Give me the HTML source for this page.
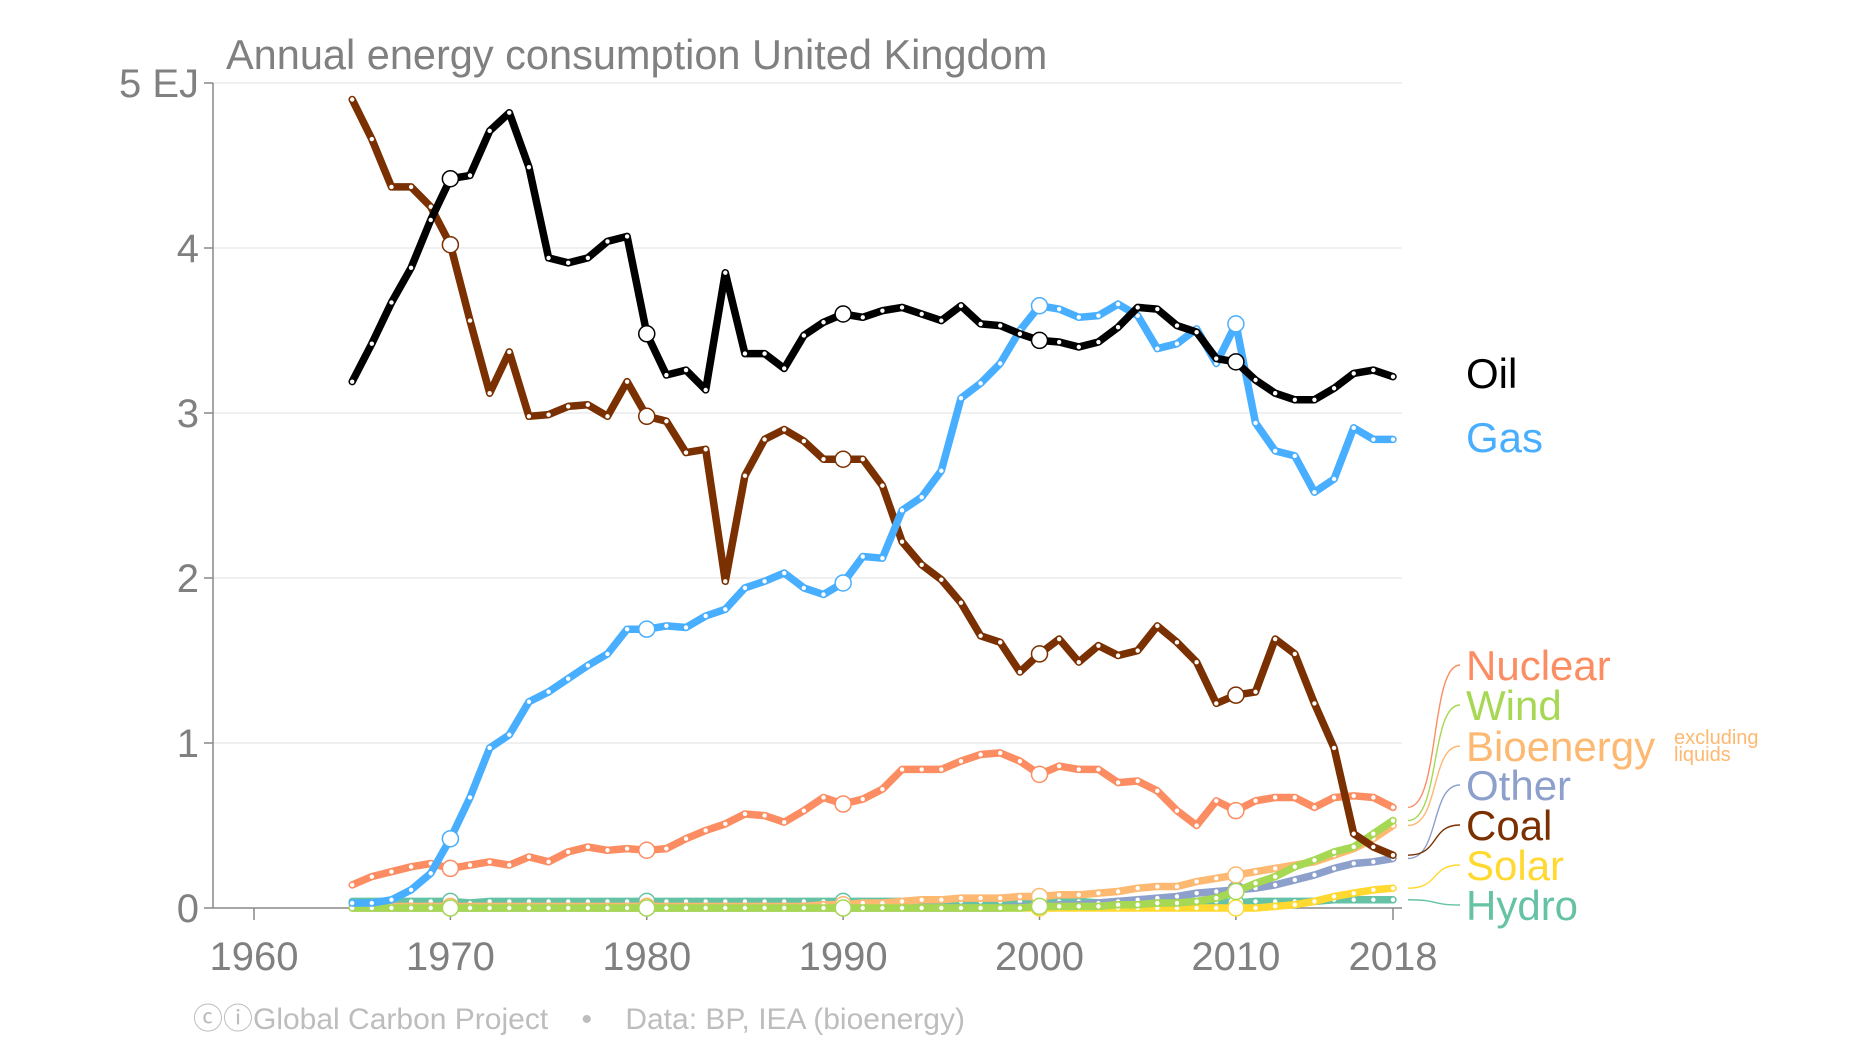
<!DOCTYPE html>
<html><head><meta charset="utf-8"><style>
html,body{margin:0;padding:0;background:#fff;}
svg{display:block;font-family:"Liberation Sans",sans-serif;}
</style></head><body>
<svg id="chart" width="1852" height="1042" viewBox="0 0 1852 1042" xmlns="http://www.w3.org/2000/svg">
<text x="226" y="69" font-size="41.5" fill="#808080">Annual energy consumption United Kingdom</text>
<g id="grid"></g><g id="axes"></g><g id="series"></g><g id="legend"></g>
<text x="193" y="1029" font-size="30" fill="#bdbdbd" xml:space="preserve">ⓒⓘGlobal Carbon Project    •    Data: BP, IEA (bioenergy)</text>
</svg>
<script>
const years = [];
for (let y = 1965; y <= 2018; y++) years.push(y);
const xTicks = [1960,1970,1980,1990,2000,2010,2018];
const yTicks = [0,1,2,3,4,5];
const yTickLabels = ["0","1","2","3","4","5 EJ"];
const oil = [3.19,3.42,3.67,3.88,4.17,4.42,4.44,4.71,4.82,4.49,3.94,3.91,3.94,4.04,4.07,3.48,3.23,3.26,3.14,3.85,3.36,3.36,3.27,3.47,3.55,3.60,3.58,3.62,3.64,3.60,3.56,3.65,3.54,3.53,3.48,3.44,3.43,3.40,3.43,3.52,3.64,3.63,3.53,3.49,3.33,3.31,3.20,3.12,3.08,3.08,3.15,3.24,3.26,3.22];
const coal = [4.90,4.66,4.37,4.37,4.25,4.02,3.56,3.12,3.37,2.98,2.99,3.04,3.05,2.98,3.19,2.98,2.95,2.76,2.78,1.98,2.62,2.84,2.90,2.83,2.72,2.72,2.72,2.56,2.22,2.08,1.99,1.85,1.65,1.61,1.43,1.54,1.63,1.49,1.59,1.53,1.56,1.71,1.61,1.49,1.24,1.29,1.31,1.63,1.54,1.24,0.97,0.45,0.37,0.32];
const gas = [0.03,0.03,0.05,0.11,0.21,0.42,0.67,0.97,1.05,1.25,1.31,1.39,1.47,1.54,1.69,1.69,1.71,1.70,1.77,1.81,1.94,1.98,2.03,1.94,1.90,1.97,2.13,2.12,2.41,2.49,2.65,3.09,3.18,3.30,3.50,3.65,3.63,3.58,3.59,3.66,3.59,3.39,3.42,3.51,3.30,3.54,2.94,2.77,2.74,2.52,2.60,2.91,2.84,2.84];
const nuclear = [0.14,0.19,0.22,0.25,0.27,0.24,0.26,0.28,0.26,0.31,0.28,0.34,0.37,0.35,0.36,0.35,0.36,0.42,0.47,0.51,0.57,0.56,0.52,0.59,0.67,0.63,0.66,0.72,0.84,0.84,0.84,0.89,0.93,0.94,0.89,0.81,0.86,0.84,0.84,0.76,0.77,0.71,0.59,0.50,0.65,0.59,0.65,0.67,0.67,0.61,0.67,0.68,0.67,0.61];
const hydro = [0.04,0.04,0.04,0.04,0.04,0.04,0.03,0.04,0.04,0.04,0.04,0.04,0.04,0.04,0.04,0.04,0.04,0.04,0.04,0.04,0.04,0.04,0.04,0.04,0.04,0.04,0.04,0.04,0.04,0.04,0.04,0.04,0.04,0.04,0.04,0.04,0.04,0.04,0.03,0.04,0.04,0.04,0.04,0.04,0.04,0.03,0.04,0.04,0.04,0.04,0.05,0.05,0.05,0.05];
const bioenergy = [0.01,0.01,0.01,0.01,0.01,0.01,0.01,0.01,0.01,0.01,0.01,0.01,0.01,0.01,0.01,0.01,0.01,0.01,0.01,0.01,0.01,0.01,0.01,0.01,0.02,0.02,0.03,0.03,0.04,0.05,0.05,0.06,0.06,0.06,0.07,0.07,0.08,0.08,0.09,0.10,0.12,0.13,0.13,0.16,0.18,0.20,0.22,0.24,0.26,0.28,0.32,0.36,0.42,0.50];
const other = [0,0,0,0,0,0,0,0,0,0,0,0,0,0,0,0,0,0,0,0,0,0,0,0,0,0,0,0,0,0,0,0,0,0,0.01,0.01,0.02,0.02,0.03,0.04,0.05,0.06,0.07,0.09,0.10,0.11,0.12,0.14,0.17,0.20,0.24,0.27,0.28,0.30];
const wind = [0,0,0,0,0,0,0,0,0,0,0,0,0,0,0,0,0,0,0,0,0,0,0,0,0,0,0,0,0,0,0,0,0,0,0,0.01,0.01,0.01,0.01,0.02,0.02,0.03,0.03,0.04,0.06,0.10,0.15,0.19,0.25,0.29,0.34,0.37,0.45,0.53];
const solar = [0,0,0,0,0,0,0,0,0,0,0,0,0,0,0,0,0,0,0,0,0,0,0,0,0,0,0,0,0,0,0,0,0,0,0,0,0,0,0,0,0,0,0,0,0,0,0,0.01,0.02,0.04,0.07,0.09,0.11,0.12];
const seriesNames = ["hydro","solar","other","bioenergy","wind","nuclear","coal","gas","oil"];
const seriesValues = [hydro,solar,other,bioenergy,wind,nuclear,coal,gas,oil];
const seriesColors = ["#66c2a5","#ffd92f","#8da0cb","#fdb871","#a6d854","#fc8d62","#7a3000","#48aeff","#000000"];
const legendLabels = ["Hydro","Solar","Other","Bioenergy","Wind","Nuclear","Coal","Gas","Oil"];
const legendY = [905,865,785,746,705,665,825,437,373];

const NS="http://www.w3.org/2000/svg";
const X = yr => 254 + (yr-1960)*(1393-254)/58;
const Y = v => 908 - v*165;
function mk(tag, attrs, parent){const e=document.createElementNS(NS,tag);for(const k in attrs)e.setAttribute(k,attrs[k]);parent.appendChild(e);return e;}
const grid=document.getElementById('grid'),axes=document.getElementById('axes'),ser=document.getElementById('series'),leg=document.getElementById('legend');

yTicks.forEach((t,i)=>{
  if(t>0){const g=mk('line',{x1:213,x2:1402,y1:Y(t),y2:Y(t),stroke:'#e8e8e8','stroke-width':1.2},grid);
  
  }
  const tk=mk('line',{x1:204,x2:213,y1:Y(t),y2:Y(t),stroke:'#888','stroke-width':1.5},axes);
  
  
  const lb=mk('text',{x:199,y:Y(t)+14,'text-anchor':'end','font-size':40,fill:'#808080'},axes);
  lb.textContent=yTickLabels[i];
  
  
});
const ya=mk('line',{x1:213,x2:213,y1:83,y2:908,stroke:'#888','stroke-width':1.5},axes);


const xa=mk('line',{x1:213,x2:1402,y1:908,y2:908,stroke:'#888','stroke-width':1.5},axes);


xTicks.forEach(t=>{
  const tk=mk('line',{x1:X(t),x2:X(t),y1:908,y2:920,stroke:'#888','stroke-width':1.5},axes);
  
  
  const lb=mk('text',{x:X(t),y:970,'text-anchor':'middle','font-size':40,fill:'#808080'},axes);
  lb.textContent=t;
  
  
});

seriesValues.forEach((vals,si)=>{
  const col=seriesColors[si];
  const g=mk('g',{},ser);
  
  
  const d=vals.map((v,i)=>(i?'L':'M')+X(years[i]).toFixed(1)+','+Y(v).toFixed(1)).join('');
  const p=mk('path',{d:d,fill:'none',stroke:col,'stroke-width':7.5,'stroke-linejoin':'round','stroke-linecap':'round'},g);
  
  
  vals.forEach((v,i)=>{
    const big = years[i]%10===0;
    const c=mk('circle',{cx:X(years[i]),cy:Y(v),r:big?8:2.2,fill:'#fff',stroke:big?col:'none','stroke-width':1.5},g);
    
    
  });
  const last=vals[vals.length-1];
  const y0=Y(last), y1=legendY[si];
  if(si<7){
    const cp=mk('path',{d:`M1408,${y0} C1440,${y0} 1430,${y1} 1460,${y1}`,fill:'none',stroke:col,'stroke-width':1.4},leg);
    
    
  }
  const lb=mk('text',{x:1466,y:y1+15,'font-size':42,fill:col},leg);
  lb.textContent=legendLabels[si];
  
  
});
const n1=mk('text',{x:1674,y:744,'font-size':20,fill:'#fdb871'},leg);
n1.textContent='excluding';


const n2=mk('text',{x:1674,y:761,'font-size':20,fill:'#fdb871'},leg);
n2.textContent='liquids';


</script>
</body></html>
